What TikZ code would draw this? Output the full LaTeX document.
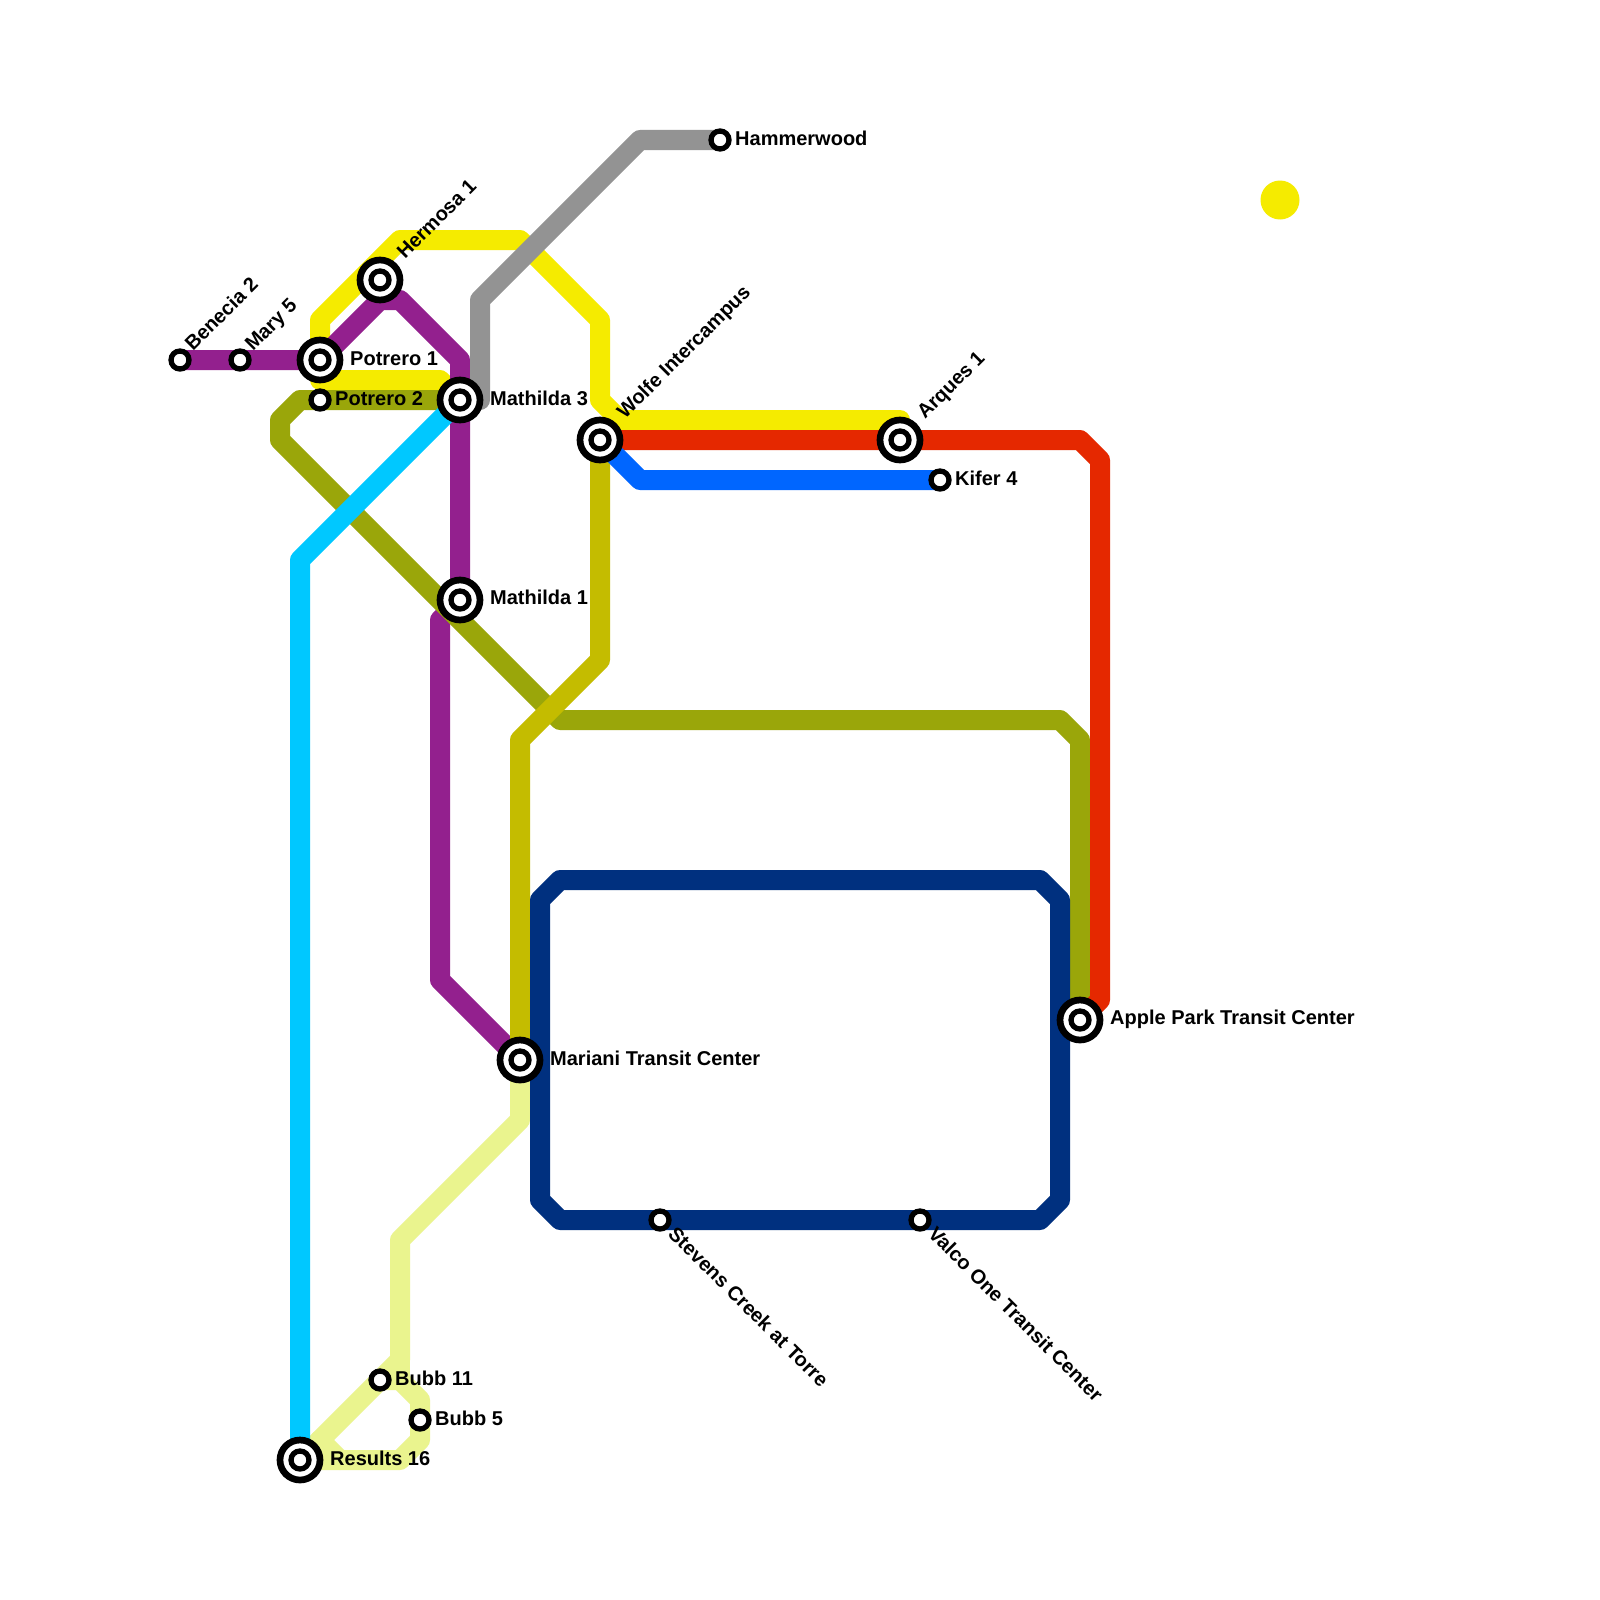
\documentclass[tikz,border=0pt]{standalone}
\usepackage{fontspec}
\setmainfont{Liberation Sans}
\definecolor{cPurple}{HTML}{93208E}
\definecolor{cYellow}{HTML}{F5EB00}
\definecolor{cOlive}{HTML}{9AA60A}
\definecolor{cGray}{HTML}{939393}
\definecolor{cCyan}{HTML}{00C8FF}
\definecolor{cDark}{HTML}{C4BC00}
\definecolor{cPale}{HTML}{EAF48E}
\definecolor{cNavy}{HTML}{00307F}
\definecolor{cRed}{HTML}{E52800}
\definecolor{cBlue}{HTML}{0066FF}
\tikzset{
  metro/.style={line width=20pt,line join=round,line cap=round},
  stnout/.style={circle,draw=black,fill=white,line width=6.7pt,minimum size=40pt,inner sep=0pt,outer sep=0pt},
  stnin/.style={circle,draw=black,fill=white,line width=5.3pt,minimum size=18pt,inner sep=0pt,outer sep=0pt},
  lbl/.style={font=\fontsize{20}{22}\selectfont\bfseries,text=black,inner sep=0pt,anchor=base west},
  sun/.style={circle,fill=cYellow,minimum size=39pt,inner sep=0pt}
}
\newcommand{\bigstn}[2]{\node[stnout] (#1o) at (#2) {}; \node[stnin] (#1) at (#2) {};}
\newcommand{\smallstn}[2]{\node[stnin] (#1) at (#2) {};}
\begin{document}
\begin{tikzpicture}[x=1pt,y=-1pt]
\useasboundingbox (0,0) rectangle (1600,1600);
\fill[white] (0,0) rectangle (1600,1600);
% station positions
\coordinate (pBenecia) at (180,360);
\coordinate (pMary) at (240,360);
\coordinate (pPotA) at (320,360);
\coordinate (pPotB) at (320,400);
\coordinate (pHermosa) at (380,280);
\coordinate (pMatC) at (460,400);
\coordinate (pMatA) at (460,600);
\coordinate (pWolfe) at (600,440);
\coordinate (pArques) at (900,440);
\coordinate (pKifer) at (940,480);
\coordinate (pHammer) at (720,140);
\coordinate (pApple) at (1080,1020);
\coordinate (pMariani) at (520,1060);
\coordinate (pStevens) at (660,1220);
\coordinate (pValco) at (920,1220);
\coordinate (pBubbE) at (380,1380);
\coordinate (pBubbF) at (420,1420);
\coordinate (pResults) at (300,1460);
% lines
\draw[metro,cPale] (pMariani) -- (520,1120) -- (400,1240) -- (400,1360) -- (pResults);
\draw[metro,cPale] (pBubbE) -- (400,1380) -- (420,1400) -- (pBubbF) -- (420,1440) -- (400,1460) -- (pResults);
\draw[metro,cPale] (400,1360) -- (400,1380);
\draw[metro,cPale] (340,1460) -- (320,1440);
\draw[metro,cYellow] (pPotA) -- (320,320) -- (400,240) -- (520,240) -- (600,320) -- (600,400) -- (620,420) -- (900,420) -- (pArques);
\draw[metro,cYellow] (pPotA) -- (320,380) -- (440,380) -- (pMatC);
\draw[metro,cPurple] (pBenecia) -- (pMary) -- (pPotA) -- (380,300) -- (400,300) -- (460,360) -- (pMatC) -- (pMatA) -- (440,620) -- (440,980) -- (pMariani);
\draw[metro,cGray] (pHammer) -- (640,140) -- (480,300) -- (480,400) -- (pMatC);
\draw[metro,cOlive] (pMatC) -- (pPotB) -- (300,400) -- (280,420) -- (280,440) -- (560,720) -- (1060,720) -- (1080,740) -- (pApple);
\draw[metro,cCyan] (pMatC) -- (300,560) -- (pResults);
\draw[metro,cDark] (pWolfe) -- (600,660) -- (520,740) -- (pMariani);
\draw[metro,cNavy] (560,880) -- (1040,880) -- (1060,900) -- (1060,1200) -- (1040,1220) -- (560,1220) -- (540,1200) -- (540,900) -- cycle;
\draw[metro,cRed] (pWolfe) -- (1080,440) -- (1100,460) -- (1100,1000) -- (pApple);
\draw[metro,cBlue] (pWolfe) -- (640,480) -- (pKifer);
% stations
\smallstn{benecia}{pBenecia}
\smallstn{mary}{pMary}
\bigstn{potA}{pPotA}
\smallstn{potB}{pPotB}
\bigstn{hermosa}{pHermosa}
\bigstn{matC}{pMatC}
\bigstn{matA}{pMatA}
\bigstn{wolfe}{pWolfe}
\bigstn{arques}{pArques}
\smallstn{kifer}{pKifer}
\smallstn{hammer}{pHammer}
\bigstn{apple}{pApple}
\bigstn{mariani}{pMariani}
\smallstn{stevens}{pStevens}
\smallstn{valco}{pValco}
\smallstn{bubbE}{pBubbE}
\smallstn{bubbF}{pBubbF}
\bigstn{results}{pResults}
\node[sun] (sunspot) at (1280,200) {};
% labels
\node[lbl] (tPotA) at (350,365) {Potrero 1};
\node[lbl] (tPotB) at (335,405) {Potrero 2};
\node[lbl] (tMatC) at (490,405) {Mathilda 3};
\node[lbl] (tMatA) at (490,604) {Mathilda 1};
\node[lbl] (tMar) at (550,1065) {Mariani Transit Center};
\node[lbl] (tHam) at (735,146) {Hammerwood};
\node[lbl] (tKif) at (955,485) {Kifer 4};
\node[lbl] (tApp) at (1110,1024) {Apple Park Transit Center};
\node[lbl] (tBubE) at (395,1385) {Bubb 11};
\node[lbl] (tBubF) at (435,1425) {Bubb 5};
\node[lbl] (tRes) at (330,1465) {Results 16};
\node[lbl,rotate=45] (tBen) at (193,352) {Benecia 2};
\node[lbl,rotate=45] (tMary) at (253,352) {Mary 5};
\node[lbl,rotate=45] (tHer) at (405,260) {Hermosa 1};
\node[lbl,rotate=45] (tWol) at (625,420) {Wolfe Intercampus};
\node[lbl,rotate=45] (tArq) at (925,420) {Arques 1};
\node[lbl,rotate=-45] (tSte) at (667,1235) {Stevens Creek at Torre};
\node[lbl,rotate=-45] (tVal) at (927,1235) {Valco One Transit Center};
\end{tikzpicture}
\end{document}
